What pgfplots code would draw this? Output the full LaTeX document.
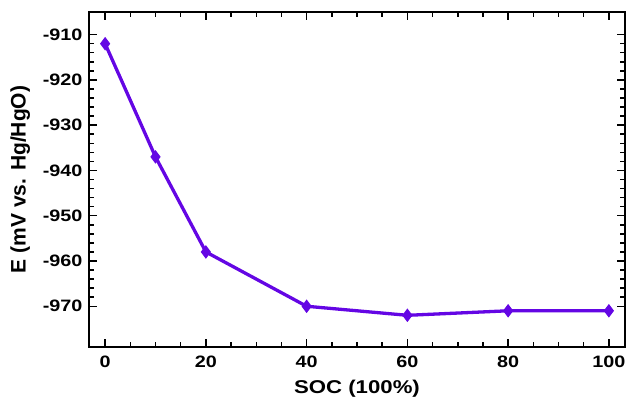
\documentclass[border=0pt]{standalone}
\usepackage{pgfplots}
\pgfplotsset{compat=1.18}
\usepackage{fontspec}
\setmainfont{Liberation Sans}
\newfontfamily\wide[FakeStretch=1.2]{Liberation Sans}
\definecolor{lc}{RGB}{100,6,228}
\begin{document}
\begin{tikzpicture}
\useasboundingbox (-89pt,-52pt) rectangle (539pt,347pt);
\begin{axis}[
  at={(0pt,0pt)}, anchor=south west,
  scale only axis,
  width=536pt, height=335pt,
  xmin=-3.2, xmax=103.2,
  ymin=-979, ymax=-905,
  xtick={0,20,40,60,80,100},
  ytick={-970,-960,-950,-940,-930,-920,-910},
  minor x tick num=3,
  minor y tick num=4,
  tick align=inside,
  major tick length=8pt,
  minor tick length=5pt,
  every tick/.style={black, line width=1.5pt},
  axis line style={line width=2pt},
  tick label style={font=\wide\fontsize{16.5}{18}\selectfont\bfseries},
  /pgf/number format/assume math mode=true,
  /pgf/number format/.cd, 1000 sep={},
  /pgfplots/.cd,
  xticklabel style={yshift=-5pt},
  yticklabel style={xshift=-3pt},
  xlabel={\wide\fontsize{18.5}{20}\selectfont\bfseries SOC (100\%)},
  ylabel={\fontsize{21}{22}\selectfont\bfseries E (mV vs. Hg/HgO)},
  xlabel style={yshift=-6pt},
  ylabel style={yshift=6pt},
]
\addplot[color=lc, line width=3.3pt, mark=diamond*, mark size=6pt, mark options={fill=lc, line width=1pt}]
coordinates {(0,-912) (10,-937) (20,-958) (40,-970) (60,-972) (80,-971) (100,-971)};
\end{axis}
\end{tikzpicture}
\end{document}
